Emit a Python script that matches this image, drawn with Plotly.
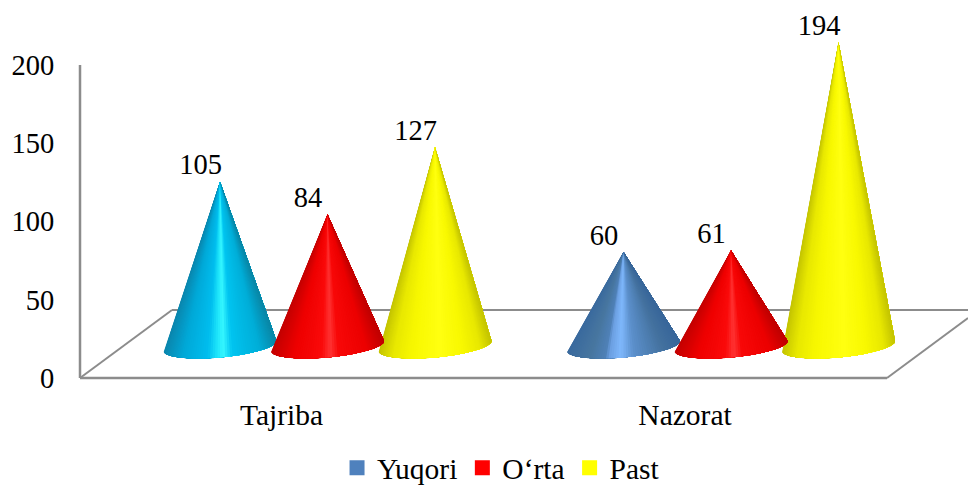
import plotly.graph_objects as go
import math

categories = ["Tajriba", "Nazorat"]
series_names = ["Yuqori", "O‘rta", "Past"]
yuqori = [105, 60]
orta = [84, 61]
past = [127, 194]
y_ticks = [0, 50, 100, 150, 200]

W, H = 968, 488
M_L, M_T, M_B = 76, 10, 106
PX_X = 403.5       # px per category
PX_Y = 1.565       # px per value unit
C0 = 327.5         # px of first category centre
Y0 = 378           # px of value 0
SER_OFF = 107.5 / PX_X
HALF_W = 56.5 / PX_X
BASE_APEX = 32 / PX_Y    # depth lift of the apex and of the base centre
BASE_B = 11.5 / PX_Y     # ellipse semi-minor
BASE_S = 5 / PX_Y        # ellipse tilt
LABEL_DX = -19.5 / PX_X
LABEL_DY = 14.5 / PX_Y
TICK_DX = -46 / PX_X

xr = [(M_L - C0) / PX_X, (W - C0) / PX_X]
yr = [(Y0 - (H - M_B)) / PX_Y, (Y0 - M_T) / PX_Y]

def X(px):
    return (px - C0) / PX_X
def Y(px):
    return (Y0 - px) / PX_Y

def hex2rgb(h):
    return [int(h[i:i + 2], 16) for i in (1, 3, 5)]

def ramp(stops, t):
    for (a, ca), (b, cb) in zip(stops, stops[1:]):
        if a <= t <= b:
            f = (t - a) / (b - a) if b > a else 0
            A, B = hex2rgb(ca), hex2rgb(cb)
            return "rgb(%d,%d,%d)" % tuple(round(A[i] + (B[i] - A[i]) * f) for i in range(3))
    return stops[-1][1]

CYAN = [(-1, "#0b86ad"), (-0.65, "#00a9d8"), (-0.22, "#00bdee"), (-0.04, "#20e8fb"), (0.06, "#35f6ff"),
        (0.22, "#00c4f0"), (0.7, "#00aed8"), (1, "#0a86a6")]
RED = [(-1, "#c40000"), (-0.6, "#ee0000"), (-0.1, "#fa0a0a"), (0.05, "#ff3333"), (0.2, "#f80808"),
       (0.7, "#ec0000"), (1, "#c00000")]
YEL = [(-1, "#c4c400"), (-0.75, "#e8e800"), (-0.4, "#f8f800"), (0.1, "#ffff10"), (0.5, "#f8f800"),
       (0.8, "#e8e800"), (1, "#c4c400")]
BLU = [(-1, "#3a6a9e"), (-0.6, "#47769f"), (-0.32, "#4f81b8"), (-0.26, "#6a9ee0"), (-0.05, "#7fb8fc"),
       (0.18, "#5c90cc"), (0.7, "#44729f"), (1, "#38669a")]
LEGEND_COL = ["#4f81bd", "#ff0000", "#ffff00"]
GREY = "#8c8c8c"

fig = go.Figure()

def line(xs, ys, w=2):
    fig.add_trace(go.Scatter(x=xs, y=ys, mode="lines", line=dict(color=GREY, width=w),
                             showlegend=False, hoverinfo="skip"))

# chart frame: wall and floor
line([X(80), X(80)], [0, 200], 2.5)
line([X(172), X(968)], [Y(310), Y(310)])
line([X(80), X(172)], [0, Y(310)])
line([X(80), X(887)], [0, 0], 2.5)
line([X(887), X(968)], [0, Y(318)])

N = 70

def cone(xc, value, stops):
    top = value + BASE_APEX
    angles = [math.pi * i / N for i in range(N + 1)]
    bx = [xc - HALF_W * math.cos(a) for a in angles]
    by = [BASE_APEX - BASE_S * math.cos(a) - BASE_B * math.sin(a) for a in angles]
    # every slice covers the rest of the cone, so no seams appear between slices
    for i in range(N):
        t = -(math.cos(angles[i]) + math.cos(angles[i + 1])) / 2
        col = ramp(stops, t)
        fig.add_trace(go.Scatter(
            x=[xc] + bx[i:] + [xc],
            y=[top] + by[i:] + [top],
            mode="lines", fill="toself", fillcolor=col,
            line=dict(color=col, width=0),
            showlegend=False, hoverinfo="skip"))

rows = [(yuqori, [CYAN, BLU]), (orta, [RED, RED]), (past, [YEL, YEL])]
for c in range(len(categories)):
    for s in (0, 2, 1):   # the middle cone lies in front of its neighbours
        vals, cols = rows[s]
        cone(c + (s - 1) * SER_OFF, vals[c], cols[c])

# value labels
lx, ly, lt = [], [], []
for c in range(len(categories)):
    for s, (vals, _) in enumerate(rows):
        lx.append(c + (s - 1) * SER_OFF + LABEL_DX)
        ly.append(vals[c] + BASE_APEX + LABEL_DY)
        lt.append(str(vals[c]))
fig.add_trace(go.Scatter(x=lx, y=ly, text=lt, mode="text", textposition="middle center",
                         textfont=dict(family="Liberation Serif", size=28.5, color="#000"),
                         showlegend=False, hoverinfo="skip"))

# legend keys
for name, col in zip(series_names, LEGEND_COL):
    fig.add_trace(go.Scatter(x=[None], y=[None], mode="markers", name=name,
                             marker=dict(symbol="square", size=15, color=col, line=dict(width=0))))

fig.update_layout(
    width=W, height=H, autosize=False,
    margin=dict(l=M_L, r=0, t=M_T, b=M_B),
    paper_bgcolor="white", plot_bgcolor="white",
    font=dict(family="Liberation Serif", size=28.5, color="#000"),
    showlegend=True,
    legend=dict(orientation="h", x=0.5176, xref="container", xanchor="center",
                y=0.094, yref="container", yanchor="top", borderwidth=0,
                font=dict(size=29.5), itemwidth=30, tracegroupgap=0, maxheight=1.0,
                bgcolor="rgba(0,0,0,0)"),
    xaxis=dict(range=xr, showgrid=False, zeroline=False, showline=False,
               tickfont=dict(size=29.5),
               tickmode="array", tickvals=[i + TICK_DX for i in range(len(categories))],
               ticktext=categories, ticks="outside", ticklen=7, tickcolor="rgba(0,0,0,0)"),
    yaxis=dict(range=yr, showgrid=False, zeroline=False, showline=False,
               tickmode="array", tickvals=y_ticks, ticks="outside", ticklen=15,
               tickcolor="rgba(0,0,0,0)"),
)
fig.write_html("out.html", config=dict(displayModeBar=False),
               post_script="document.body.style.margin='0';document.body.style.overflow='hidden';")
